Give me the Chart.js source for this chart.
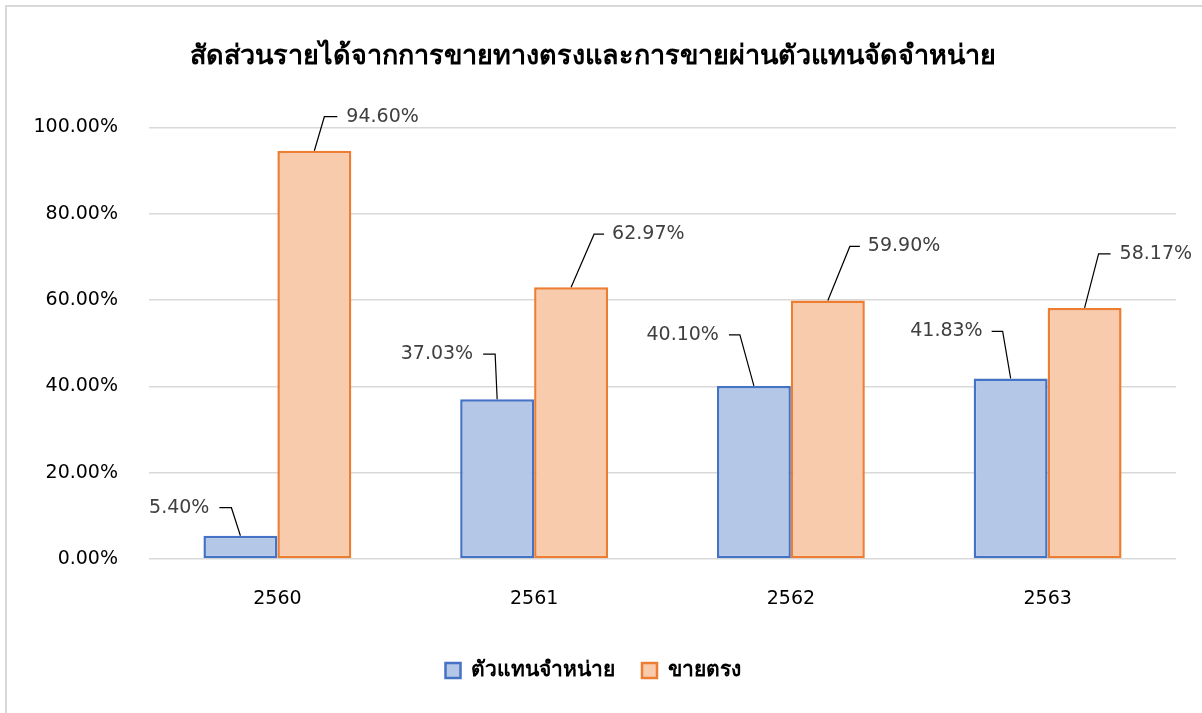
<!DOCTYPE html>
<html>
<head>
<meta charset="utf-8">
<script src="https://cdn.jsdelivr.net/npm/chart.js@4.4.1/dist/chart.umd.min.js"></script>
<style>
  html, body { margin: 0; padding: 0; background: #fff; }
  #wrap { position: relative; width: 1202px; height: 713px; overflow: hidden; }
  #frame { position: absolute; left: 5px; top: 5px; width: 1300px; height: 800px;
           border-left: 2px solid #d9d9d9; border-top: 2px solid #d9d9d9; }
  canvas { position: absolute; left: 0; top: 0; }
</style>
</head>
<body>
<div id="wrap">
  <div id="frame"></div>
  <canvas id="chartStuff" width="1202" height="713"></canvas>
</div>
<script>
// chart data
var years = ["2560", "2561", "2562", "2563"];
var agentShare = [5.40, 37.03, 40.10, 41.83];
var directShare = [94.60, 62.97, 59.90, 58.17];
var seriesNames = ["ตัวแทนจำหน่าย", "ขายตรง"];
var yTicks = [0, 20, 40, 60, 80, 100];

// where each label sits relative to the top of its bar: [elbow dx, elbow dy, line end dx, text dx]
var agentLabelPos = [[-9, -28, -21, -31], [-2, -45, -14, -24], [-14, -51, -25, -35], [-8, -47, -19, -28]];
var directLabelPos = [[10, -34, 23, 32], [23, -53, 33, 41], [22, -54, 32, 40], [14, -54, 26, 35]];

var font = '"DejaVu Sans", "Noto Sans", sans-serif';

// draw the value labels with their little leader lines, like excel does
var leaderLabels = {
  id: 'leaderLabels',
  afterDatasetsDraw: function(chart) {
    var ctx = chart.ctx;
    ctx.save();
    ctx.font = '19px ' + font;
    ctx.textBaseline = 'middle';
    chart.data.datasets.forEach(function(ds, di) {
      var meta = chart.getDatasetMeta(di);
      var pos = di == 0 ? agentLabelPos : directLabelPos;
      meta.data.forEach(function(bar, i) {
        var p = pos[i];
        var bx = bar.x, by = bar.y;
        var ex = bx + p[0], ey = by + p[1];
        ctx.strokeStyle = '#000';
        ctx.lineWidth = 1.2;
        ctx.beginPath();
        ctx.moveTo(bx, by);
        ctx.lineTo(ex, ey);
        ctx.lineTo(bx + p[2], ey);
        ctx.stroke();
        ctx.fillStyle = '#404040';
        ctx.textAlign = p[3] < 0 ? 'right' : 'left';
        ctx.fillText(ds.data[i].toFixed(2) + '%', bx + p[3], ey);
      });
    });
    ctx.restore();
  }
};

var ctx = document.getElementById('chartStuff').getContext('2d');
var myChart = new Chart(ctx, {
  type: 'bar',
  data: {
    labels: years,
    datasets: [{
      label: seriesNames[0],
      data: agentShare,
      backgroundColor: '#b4c7e7',
      borderColor: '#4472c4',
      borderWidth: 2.5,
      borderSkipped: false
    }, {
      label: seriesNames[1],
      data: directShare,
      backgroundColor: '#f8cbad',
      borderColor: '#ed7d31',
      borderWidth: 2.5,
      borderSkipped: false
    }]
  },
  options: {
    responsive: false,
    animation: false,
    layout: { padding: { left: 10, right: 26, top: 0, bottom: 22 } },
    datasets: { bar: { categoryPercentage: 0.576, barPercentage: 1.0 } },
    scales: {
      x: {
        grid: { display: false },
        border: { display: false },
        ticks: { color: '#000', font: { family: font, size: 19 }, padding: 21 },
        afterFit: function(s) { s.height = 74; }
      },
      y: {
        min: 0,
        max: 100,
        afterBuildTicks: function(s) { s.ticks = yTicks.map(function(v) { return { value: v }; }); },
        grid: { color: '#d9d9d9', lineWidth: 1.5, drawTicks: false },
        border: { display: false },
        ticks: {
          color: '#000',
          padding: 31,
          font: { family: font, size: 19 },
          callback: function(v) { return v.toFixed(2) + '%'; }
        },
        afterFit: function(s) { s.width = 139; }
      }
    },
    plugins: {
      title: {
        display: true,
        text: 'สัดส่วนรายได้จากการขายทางตรงและการขายผ่านตัวแทนจัดจำหน่าย',
        color: '#000',
        font: { family: font, size: 27, weight: 'bold' },
        padding: { top: 41, bottom: 54 }
      },
      legend: {
        position: 'bottom',
        labels: {
          color: '#000',
          font: { family: font, size: 21, weight: 'bold' },
          boxWidth: 15,
          boxHeight: 15,
          padding: 27
        }
      },
      tooltip: { enabled: false }
    }
  },
  plugins: [leaderLabels]
});
</script>
</body>
</html>
